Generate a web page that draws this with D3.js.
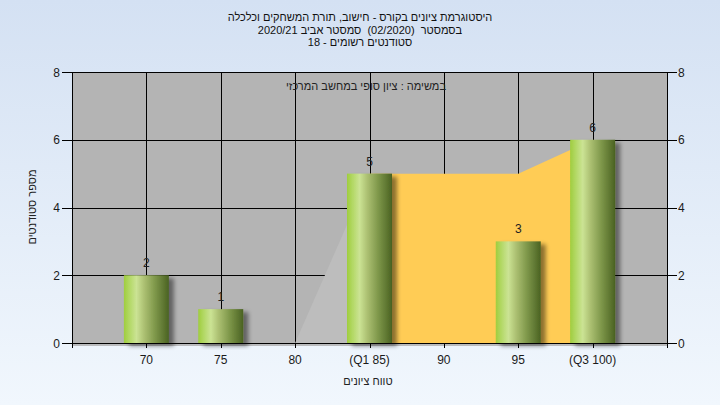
<!DOCTYPE html>
<html>
<head>
<meta charset="utf-8">
<script src="https://cdn.jsdelivr.net/npm/d3@7"></script>
<style>
html,body{margin:0;padding:0;}
svg{display:block;font-family:"Liberation Sans",Arial,sans-serif;}
text{white-space:pre;}
</style>
</head>
<body>
<svg id="chart" width="720" height="405"></svg>
<script>
const categories = ["70","75","80","(Q1 85)","90","95","(Q3 100)"];
const counts = [2,1,0,5,0,3,6];
const areaCats = ["80","(Q1 85)","90","95","(Q3 100)"];
const areaValues = [0,5,5,5,6];
const yTicks = [0,2,4,6,8];
const titleLines = ["היסטוגרמת ציונים בקורס - חישוב, תורת המשחקים וכלכלה",
                    "בסמסטר  (02/2020)  סמסטר אביב 2020/21",
                    "סטודנטים רשומים - 18"];
const noteText = "במשימה : ציון סופי במחשב המרכזי";
const yLabel = "מספר סטודנטים";
const xLabel = "טווח ציונים";

const W=720,H=405;
const L=72,R=667,T=72,B=343;
const svg=d3.select("#chart");
const defs=svg.append("defs");

const bg=defs.append("linearGradient").attr("id","bg").attr("x1",0).attr("y1",0).attr("x2",0).attr("y2",1);
bg.append("stop").attr("offset","0%").attr("stop-color","#d4e1f3");
bg.append("stop").attr("offset","100%").attr("stop-color","#f1f7fd");

const bg2=defs.append("linearGradient").attr("id","barg").attr("x1",0).attr("y1",0).attr("x2",1).attr("y2",0);
[["0%","#9fcd3e"],["12%","#b2d864"],["28%","#cbe394"],["45%","#acc072"],["70%","#7d9649"],["100%","#4a6222"]]
  .forEach(s=>bg2.append("stop").attr("offset",s[0]).attr("stop-color",s[1]));

const f=defs.append("filter").attr("id","sh").attr("x","-20%").attr("y","-20%").attr("width","160%").attr("height","140%");
f.append("feDropShadow").attr("dx",5).attr("dy",3).attr("stdDeviation",2).attr("flood-color","#000").attr("flood-opacity",0.45);

svg.append("rect").attr("width",W).attr("height",H).attr("fill","url(#bg)");

const idx = c => categories.indexOf(c)+1;
const x=d3.scaleLinear().domain([0,categories.length+1]).range([L,R]);
const y=d3.scaleLinear().domain([0,8]).range([B,T]);

svg.append("rect").attr("x",L).attr("y",T).attr("width",R-L).attr("height",B-T).attr("fill","#b4b4b4");

// grid
const g=svg.append("g");
d3.range(1,categories.length+1).forEach(i=>{
  g.append("line").attr("x1",Math.round(x(i))+0.5).attr("x2",Math.round(x(i))+0.5).attr("y1",T).attr("y2",B).attr("stroke","#000");
});
yTicks.filter(v=>v>0).forEach(v=>{
  g.append("line").attr("x1",L).attr("x2",R).attr("y1",Math.round(y(v))+0.5).attr("y2",Math.round(y(v))+0.5).attr("stroke","#000");
});

// area
const pts=areaCats.map((c,i)=>[x(idx(c)),y(areaValues[i])]);
const area=d3.area().x(d=>d[0]).y0(y(0)).y1(d=>d[1]);
svg.append("path").attr("d",area(pts.slice(0,2))).attr("fill","#bdbdbd");
svg.append("path").attr("d",area(pts.slice(1))).attr("fill","#ffcc55");

// axis shadow line
svg.append("line").attr("x1",L).attr("x2",R).attr("y1",B+2).attr("y2",B+2).attr("stroke","#a8a8a8").attr("stroke-width",1.5);

// bars
const bw=45;
svg.append("g").selectAll("rect").data(categories.map((c,i)=>({c,v:counts[i]})).filter(d=>d.v>0)).join("rect")
  .attr("x",d=>x(idx(d.c))-bw/2).attr("y",d=>y(d.v)).attr("width",bw).attr("height",d=>y(0)-y(d.v))
  .attr("fill","url(#barg)").attr("filter","url(#sh)");
svg.append("g").selectAll("text").data(categories.map((c,i)=>({c,v:counts[i]})).filter(d=>d.v>0)).join("text")
  .attr("x",d=>x(idx(d.c))).attr("y",d=>y(d.v)-8).attr("text-anchor","middle")
  .attr("font-size",12).attr("fill","#222").text(d=>d.v);

// axes
const ax=svg.append("g").attr("stroke","#000").attr("fill","none");
ax.append("line").attr("x1",L+0.5).attr("x2",L+0.5).attr("y1",T).attr("y2",B+5);
ax.append("line").attr("x1",R+0.5).attr("x2",R+0.5).attr("y1",T).attr("y2",B+5);
ax.append("line").attr("x1",L).attr("x2",R).attr("y1",B+0.5).attr("y2",B+0.5);
yTicks.forEach(v=>{
  const yy=Math.round(y(v))+0.5;
  ax.append("line").attr("x1",L-10).attr("x2",L).attr("y1",yy).attr("y2",yy);
  ax.append("line").attr("x1",R).attr("x2",R+10).attr("y1",yy).attr("y2",yy);
});
d3.range(0,categories.length+2).forEach(i=>{
  const xx=Math.round(x(i))+0.5;
  ax.append("line").attr("x1",xx).attr("x2",xx).attr("y1",B).attr("y2",B+5);
});
const tl=svg.append("g").attr("font-size",12).attr("fill","#1a1a1a");
yTicks.forEach(v=>{
  tl.append("text").attr("x",L-12).attr("y",y(v)+4.5).attr("text-anchor","end").text(v);
  tl.append("text").attr("x",R+11).attr("y",y(v)+4.5).attr("text-anchor","start").text(v);
});
categories.forEach((c,i)=>{
  tl.append("text").attr("x",x(i+1)).attr("y",364).attr("text-anchor","middle").attr("direction","ltr").text(c);
});

// titles
const tt=svg.append("g").attr("font-size",11).attr("fill","#111").attr("text-anchor","middle").attr("direction","rtl");
titleLines.forEach((s,i)=>tt.append("text").attr("x",360).attr("y",21+i*12.5).text(s));

svg.append("text").attr("x",446).attr("y",90).attr("direction","rtl").attr("text-anchor","start")
  .attr("font-size",11).attr("fill","#222").text(noteText);
svg.append("text").attr("transform","translate(36,207) rotate(-90)").attr("text-anchor","middle").attr("direction","rtl")
  .attr("font-size",11).attr("fill","#222").text(yLabel);
svg.append("text").attr("x",368).attr("y",385).attr("text-anchor","middle").attr("direction","rtl")
  .attr("font-size",11).attr("fill","#222").text(xLabel);
</script>
</body>
</html>
